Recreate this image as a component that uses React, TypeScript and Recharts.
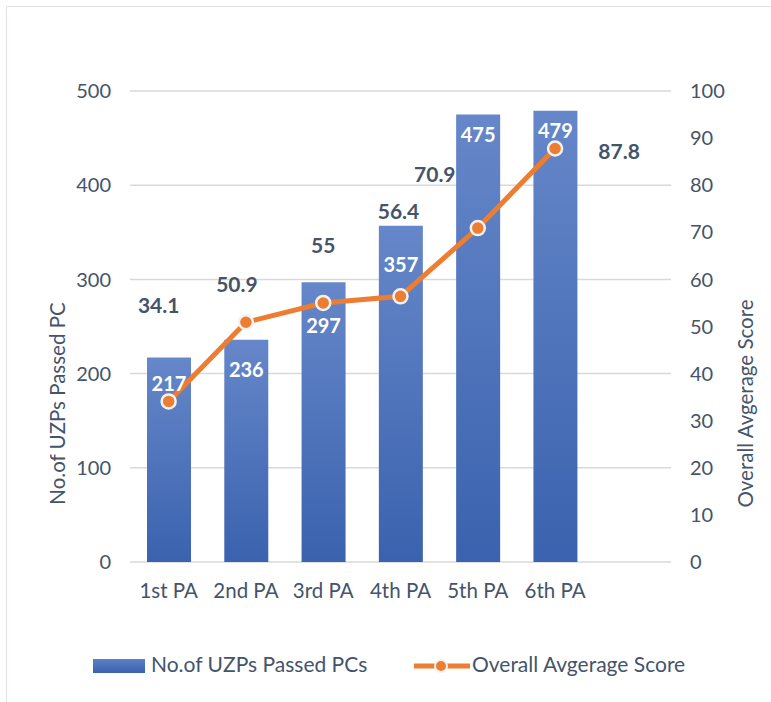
import { ComposedChart, Bar, Line, XAxis, YAxis, CartesianGrid, LabelList, Legend } from 'recharts'

const periods = ['1st PA', '2nd PA', '3rd PA', '4th PA', '5th PA', '6th PA', '']
const passedPCs = [217, 236, 297, 357, 475, 479, null]
const avgScore = [34.1, 50.9, 55, 56.4, 70.9, 87.8, null]
const leftTicks = [0, 100, 200, 300, 400, 500]
const rightTicks = [0, 10, 20, 30, 40, 50, 60, 70, 80, 90, 100]

// hand-placed label nudges, like the original workbook
const barLabelDrop = [25, 29, 43, 38, 19, 19]
const scoreLabelDx = [-10, -9, 0, -2, -43, 64]
const scoreLabelDy = [-97, -39, -58, -86, -55, 2]

const TEXT = '#44546a'
const FONT = 'Lato, "Open Sans", sans-serif'

const data = periods.map((p, i) => ({ period: p, passed: passedPCs[i], score: avgScore[i] }))

const BarValue = (props: any) => {
  const { x, y, width, value, index } = props
  if (value == null) return null
  return (
    <text x={x + width / 2} y={y + barLabelDrop[index]} fill="#ffffff" fontSize={20} fontWeight={700}
      textAnchor="middle" dominantBaseline="central" fontFamily={FONT}>
      {value}
    </text>
  )
}

const ScoreValue = (props: any) => {
  const { x, y, value, index } = props
  if (value == null) return null
  return (
    <text x={x + scoreLabelDx[index]} y={y + scoreLabelDy[index]} fill={TEXT} fontSize={21} fontWeight={700}
      textAnchor="middle" dominantBaseline="central" fontFamily={FONT}>
      {value}
    </text>
  )
}

const AxisTitle = (props: any) => {
  const { viewBox, value, side } = props
  const cx = side === 'left' ? viewBox.x + 57 : viewBox.x + 74
  const cy = viewBox.y + viewBox.height / 2 + 77
  return (
    <text x={cx} y={cy} transform={`rotate(-90 ${cx} ${cy})`} fill={TEXT} fontSize={20.5}
      textAnchor="middle" dominantBaseline="central" fontFamily={FONT}>
      {value}
    </text>
  )
}

const LegendBox = () => (
  <div style={{ position: 'relative', width: 771, height: 30, fontFamily: FONT, fontSize: 21, color: TEXT }}>
    <svg width={52} height={14} style={{ position: 'absolute', left: 93, top: 8 }}>
      <rect width={52} height={14} fill="url(#legendBlue)" />
      <defs>
        <linearGradient id="legendBlue" x1="0" y1="0" x2="0" y2="1">
          <stop offset="0%" stopColor="#5b80c6" />
          <stop offset="100%" stopColor="#3a62ae" />
        </linearGradient>
      </defs>
    </svg>
    <span style={{ position: 'absolute', left: 151, top: 0, whiteSpace: 'nowrap' }}>No.of UZPs Passed PCs</span>
    <svg width={58} height={20} style={{ position: 'absolute', left: 413, top: 5 }}>
      <line x1={1} y1={10} x2={57} y2={10} stroke="#ed7d31" strokeWidth={5} />
      <circle cx={28} cy={10} r={6} fill="#ed7d31" stroke="#f2f2f2" strokeWidth={2} />
    </svg>
    <span style={{ position: 'absolute', left: 472, top: 0, whiteSpace: 'nowrap' }}>Overall Avgerage Score</span>
  </div>
)

export default function App() {
  return (
    <div style={{ position: 'absolute', left: 0, top: 0, width: 771, height: 702, background: '#fff', overflow: 'hidden' }}>
      <div style={{ position: 'absolute', left: 6, top: 6, width: 800, height: 720, border: '1.5px solid #dfe3e8' }} />
      <ComposedChart width={771} height={702} data={data}
        margin={{ top: 91, right: 0, left: 0, bottom: 100 }} barCategoryGap={0}>
        <defs>
          <linearGradient id="barBlue" x1="0" y1="0" x2="0" y2="1">
            <stop offset="0%" stopColor="#6687c9" />
            <stop offset="100%" stopColor="#3a62ae" />
          </linearGradient>
        </defs>
        <CartesianGrid yAxisId="left" vertical={false} stroke="#d9d9d9" strokeWidth={1.5} />
        <XAxis dataKey="period" axisLine={false} tickLine={false} tickSize={0} tickMargin={21} height={40}
          interval={0} tick={{ fill: TEXT, fontSize: 20.5, fontFamily: FONT }} />
        <YAxis yAxisId="left" width={130} domain={[0, 500]} ticks={leftTicks} axisLine={false} tickLine={false}
          tickSize={0} tickMargin={19} tick={{ fill: TEXT, fontSize: 20, fontFamily: FONT }}
          label={<AxisTitle side="left" value="No.of UZPs Passed PC" />} />
        <YAxis yAxisId="right" orientation="right" width={100} domain={[0, 100]} ticks={rightTicks}
          axisLine={false} tickLine={false} tickSize={0} tickMargin={19}
          tick={{ fill: TEXT, fontSize: 20, fontFamily: FONT }}
          label={<AxisTitle side="right" value="Overall Avgerage Score" />} />
        <Bar yAxisId="left" dataKey="passed" fill="url(#barBlue)" barSize={44} isAnimationActive={false}>
          <LabelList dataKey="passed" content={<BarValue />} />
        </Bar>
        <Line yAxisId="right" dataKey="score" type="linear" stroke="#ed7d31" strokeWidth={5}
          dot={{ r: 7, fill: '#ed7d31', stroke: '#f2f2f2', strokeWidth: 2.5 }} activeDot={false}
          isAnimationActive={false}>
          <LabelList dataKey="score" content={<ScoreValue />} />
        </Line>
        <Legend layout="vertical" align="center" verticalAlign="middle" content={<LegendBox />}
          wrapperStyle={{ position: 'absolute', top: 651, left: 0, width: 771, height: 30 }} />
      </ComposedChart>
    </div>
  )
}
